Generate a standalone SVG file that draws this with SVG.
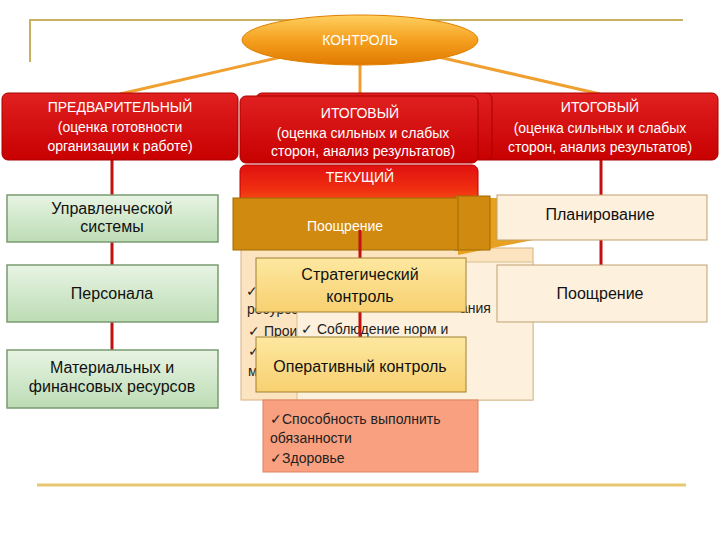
<svg xmlns="http://www.w3.org/2000/svg" width="720" height="540" viewBox="0 0 720 540">
<defs>
<linearGradient id="og" x1="0" y1="0" x2="0" y2="1"><stop offset="0" stop-color="#ffd060"/><stop offset="0.5" stop-color="#f5a020"/><stop offset="1" stop-color="#e07a00"/></linearGradient>
<linearGradient id="rg" x1="0" y1="0" x2="0" y2="1"><stop offset="0" stop-color="#e02020"/><stop offset="1" stop-color="#c80000"/></linearGradient>
<linearGradient id="tg" x1="0" y1="0" x2="0" y2="1"><stop offset="0" stop-color="#e01010"/><stop offset="0.5" stop-color="#f03010"/><stop offset="1" stop-color="#ff7020"/></linearGradient>
<linearGradient id="gg" x1="0" y1="0" x2="0" y2="1"><stop offset="0" stop-color="#e8f4e4"/><stop offset="1" stop-color="#bcdcb4"/></linearGradient>
<linearGradient id="yg" x1="0" y1="0" x2="0" y2="1"><stop offset="0" stop-color="#fde8a0"/><stop offset="1" stop-color="#f8d070"/></linearGradient>
</defs>
<style>
text{font-family:"Liberation Sans",Arial,sans-serif;text-anchor:middle}
.w{fill:#fff;font-size:14px}
.b{fill:#111;font-size:16px}
.s{fill:#222;font-size:14px;text-anchor:start}
.red{fill:url(#rg);stroke:#a00;stroke-width:1}
.grn{fill:url(#gg);stroke:#7a9a70;stroke-width:1.5}
.crm{fill:#fdf0dc;stroke:#c0a070;stroke-width:1}
.yel{fill:url(#yg);stroke:#a08030;stroke-width:1}
</style>
<g id="connectors" fill="none">
<polyline points="30,62 30,20 683,20" stroke="#c8b060" stroke-width="2"/>
<line x1="37" y1="485" x2="686" y2="485" stroke="#e8c870" stroke-width="3"/>
<line x1="290" y1="55" x2="120" y2="94" stroke="#f0a030" stroke-width="3"/>
<line x1="360" y1="62" x2="360" y2="94" stroke="#f0a030" stroke-width="3"/>
<line x1="430" y1="55" x2="600" y2="94" stroke="#f0a030" stroke-width="3"/>
<line x1="112" y1="160" x2="112" y2="350" stroke="#c01010" stroke-width="3"/>
<line x1="601" y1="160" x2="601" y2="265" stroke="#c01010" stroke-width="3"/>
</g>
<g id="kontrol"><ellipse cx="360" cy="40" rx="118" ry="25" fill="url(#og)" stroke="#e08000"/><text x="360" y="45" class="w">КОНТРОЛЬ</text></g>
<g id="pred"><rect x="2" y="93" width="236" height="67" rx="6" class="red"/><text x="120" y="112" class="w">ПРЕДВАРИТЕЛЬНЫЙ</text><text x="120" y="132" class="w" font-size="13">(оценка готовности</text><text x="120" y="151" class="w" font-size="13">организации к работе)</text></g>
<g id="itog2"><rect x="482" y="93" width="236" height="67" rx="6" class="red"/><text x="600" y="112" class="w">ИТОГОВЫЙ</text><text x="600" y="133" class="w" font-size="13">(оценка сильных и слабых</text><text x="600" y="152" class="w" font-size="13">сторон, анализ результатов)</text></g>
<g id="tek"><rect x="240" y="165" width="238" height="50" rx="6" fill="url(#tg)" stroke="#b00"/><text x="360" y="182" class="w">ТЕКУЩИЙ</text></g>
<g id="itog1"><rect x="256" y="93" width="236" height="67" rx="6" class="red"/><rect x="240" y="96" width="238" height="67" rx="6" class="red"/><text x="360" y="118" class="w">ИТОГОВЫЙ</text><text x="363" y="138" class="w" font-size="13">(оценка сильных и слабых</text><text x="363" y="156" class="w" font-size="13">сторон, анализ результатов)</text></g>
<g id="upr"><rect x="7" y="195" width="211" height="47" class="grn"/><text x="112" y="214" class="b">Управленческой</text><text x="112" y="232" class="b">системы</text></g>
<g id="pers"><rect x="7" y="265" width="211" height="57" class="grn"/><text x="112" y="299" class="b">Персонала</text></g>
<g id="mat"><rect x="7" y="350" width="211" height="58" class="grn"/><text x="112" y="373" class="b">Материальных и</text><text x="112" y="392" class="b">финансовых ресурсов</text></g>
<g id="back"><rect x="241" y="248" width="292" height="152" fill="#fde4c0" stroke="#d8b080"/>
<text x="246" y="296" class="s">✓</text><text x="247" y="314" class="s">ресурсов</text><text x="248" y="336" class="s">✓ Производ</text><text x="248" y="356" class="s">✓</text><text x="248" y="376" class="s">м</text>
<rect x="297" y="262" width="236" height="138" fill="#fdf0dc" stroke="#d8c090"/><rect x="263" y="400" width="215" height="72" fill="#f8a080" stroke="#e08060"/>
<text x="460" y="313" class="s">ания</text><text x="301" y="334" class="s">✓ Соблюдение норм и</text>
<text x="270" y="424" class="s" font-size="13">✓Способность выполнить</text><text x="270" y="443" class="s" font-size="13">обязанности</text><text x="270" y="463" class="s" font-size="13">✓Здоровье</text></g>
<g id="pooshch1"><polygon points="458,198 533,198 533,240 458,255" fill="#e8a020"/><rect x="455" y="196" width="35" height="54" fill="#d08a10" stroke="#a06a00"/><rect x="233" y="198" width="225" height="52" fill="#d08a10" stroke="#a06a00"/><text x="345" y="231" class="w">Поощрение</text></g>
<line x1="360" y1="230" x2="360" y2="340" stroke="#c01010" stroke-width="3"/>
<g id="plan"><rect x="497" y="195" width="210" height="45" class="crm"/><text x="600" y="220" class="b">Планирование</text></g>
<g id="pooshch2"><rect x="497" y="265" width="210" height="57" class="crm"/><text x="600" y="299" class="b">Поощрение</text></g>
<g id="strat"><rect x="256" y="258" width="210" height="54" class="yel"/><text x="360" y="280" class="b">Стратегический</text><text x="360" y="302" class="b">контроль</text></g>
<g id="oper"><rect x="256" y="337" width="210" height="55" class="yel"/><text x="360" y="372" class="b">Оперативный контроль</text></g>
</svg>
